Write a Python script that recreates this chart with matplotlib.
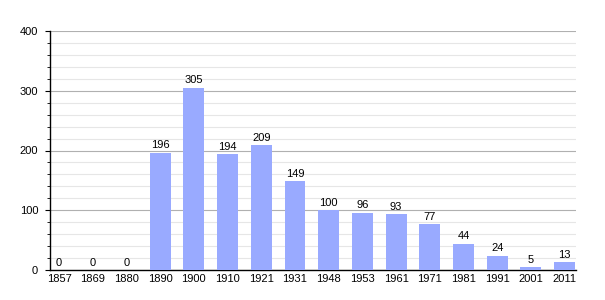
import matplotlib
matplotlib.use("Agg")
import matplotlib.pyplot as plt
from matplotlib.ticker import MultipleLocator

years = ['1857', '1869', '1880', '1890', '1900', '1910', '1921', '1931', '1948',
         '1953', '1961', '1971', '1981', '1991', '2001', '2011']
population = [0, 0, 0, 196, 305, 194, 209, 149, 100, 96, 93, 77, 44, 24, 5, 13]

plt.rcParams['font.family'] = ['Liberation Sans', 'DejaVu Sans']

fig = plt.figure(figsize=(6.05, 3.0), dpi=100)
ax = fig.add_axes([50/605, 30/300, 526/605, 239/300])

x = range(len(years))
ax.bar(x, population, width=0.62, color='#99aaff', zorder=3)
for i, v in enumerate(population):
    ax.text(i, v + 4, str(v), ha='center', va='bottom', fontsize=8, zorder=4)

ax.set_ylim(0, 400)
ax.set_xlim(-0.27, len(years) - 1 + 0.34)
ax.set_xticks(list(x))
ax.set_xticklabels(years, fontsize=8)
ax.tick_params(axis='x', length=0, pad=3)
ax.yaxis.set_major_locator(MultipleLocator(100))
ax.yaxis.set_minor_locator(MultipleLocator(20))
ax.tick_params(axis='y', which='major', length=3.5, labelsize=8, pad=5)
ax.tick_params(axis='y', which='minor', length=2)
ax.grid(axis='y', which='major', color='#b0b0b0', linewidth=0.8, zorder=0)
ax.grid(axis='y', which='minor', color='#e6e6e6', linewidth=0.8, zorder=0)

for s in ['top', 'right']:
    ax.spines[s].set_visible(False)
ax.spines['left'].set_linewidth(1.0)
ax.spines['bottom'].set_linewidth(1.0)

fig.savefig('out.png', dpi=100)
